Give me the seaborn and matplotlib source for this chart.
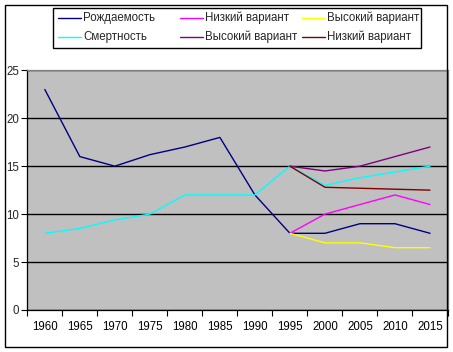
import matplotlib
matplotlib.use("Agg")
import matplotlib.pyplot as plt
import seaborn as sns
import pandas as pd
from matplotlib.patches import Rectangle
from matplotlib.lines import Line2D

years = ["1960", "1965", "1970", "1975", "1980", "1985", "1990", "1995", "2000", "2005", "2010", "2015"]
birth = [23, 16, 15, 16.2, 17, 18, 12, 8, 8, 9, 9, 8]
death = [8, 8.5, 9.4, 10, 12, 12, 12, 15, 13, 13.8, 14.4, 15]
birth_low_years = ["1995", "2000", "2005", "2010", "2015"]
birth_low = [8, 10, 11, 12, 11]
birth_high = [8, 7, 7, 6.5, 6.5]
death_high = [15, 14.5, 15, 16, 17]
death_low = [15, 12.8, 12.7, 12.6, 12.5]

series = [
    ("Рождаемость", years, birth, "#000080"),
    ("Смертность", years, death, "#00FFFF"),
    ("Низкий вариант", birth_low_years, birth_low, "#FF00FF"),
    ("Высокий вариант", birth_low_years, death_high, "#800080"),
    ("Высокий вариант", birth_low_years, birth_high, "#FFFF00"),
    ("Низкий вариант", birth_low_years, death_low, "#800000"),
]

sns.set_theme(style="white")
plt.rcParams["font.family"] = ["Liberation Sans", "DejaVu Sans"]
plt.rcParams["font.size"] = 8.3

W, H = 453, 352
fig = plt.figure(figsize=(W / 100, H / 100), dpi=100)
ax = fig.add_axes([27.3 / W, 1 - 310 / H, (447.5 - 27.3) / W, (310 - 70.3) / H])
ax.set_facecolor("#C0C0C0")

pos = {y: i for i, y in enumerate(years)}
draw_order = [0, 1, 2, 4, 3, 5]
for idx in draw_order:
    name, xs, ys, col = series[idx]
    df = pd.DataFrame({"x": [pos[x] for x in xs], "y": ys})
    sns.lineplot(data=df, x="x", y="y", ax=ax, color=col, linewidth=1.0, legend=False)

ax.set_xlim(-0.5, 11.5)
ax.set_ylim(0, 25)
ax.set_yticks([0, 5, 10, 15, 20, 25])
ax.set_xticks(range(12))
ax.set_xticklabels(years)
ax.set_xticks([i - 0.5 for i in range(13)], minor=True)
ax.tick_params(axis="x", which="major", length=0, pad=8, labelsize=8.3, colors="black")
ax.tick_params(axis="x", which="minor", length=4, width=0.8, direction="out", color="black", bottom=True)
ax.tick_params(axis="y", which="major", length=4, width=0.8, direction="out", color="black", left=True, pad=2, labelsize=8.3)
ax.yaxis.grid(True, color="black", linewidth=1.0)
ax.xaxis.grid(False)
ax.set_axisbelow(True)
ax.set_xlabel("")
ax.set_ylabel("")
for s in ["left", "bottom"]:
    ax.spines[s].set_color("black")
    ax.spines[s].set_linewidth(0.9)
for s in ["top", "right"]:
    ax.spines[s].set_color("#808080")
    ax.spines[s].set_linewidth(0.9)

# legend (manual layout, 3 columns x 2 rows)
fig.patches.append(Rectangle((53 / W, 1 - 48 / H), (421 - 53) / W, (48 - 8) / H,
                             transform=fig.transFigure, fill=True, facecolor="white",
                             edgecolor="black", linewidth=1.0, zorder=5))
col_x = [58, 180, 302]
row_y = [18, 37]
layout = [(0, 0, 0), (1, 0, 1), (2, 1, 0), (3, 1, 1), (4, 2, 0), (5, 2, 1)]
for idx, c, r in layout:
    name, _, _, col = series[idx]
    x0 = col_x[c]
    y = 1 - row_y[r] / H
    fig.add_artist(Line2D([x0 / W, (x0 + 23) / W], [y, y], transform=fig.transFigure,
                          color=col, linewidth=1.0, zorder=6))
    fig.text((x0 + 25) / W, y, name, ha="left", va="center", fontsize=8.3, zorder=6)

fig.patches.append(Rectangle((5 / W, 1 - 347 / H), (447 - 5) / W, (347 - 5) / H,
                             transform=fig.transFigure, fill=False, edgecolor="black", linewidth=1.0))

fig.savefig("out.png", dpi=100, facecolor="white")
